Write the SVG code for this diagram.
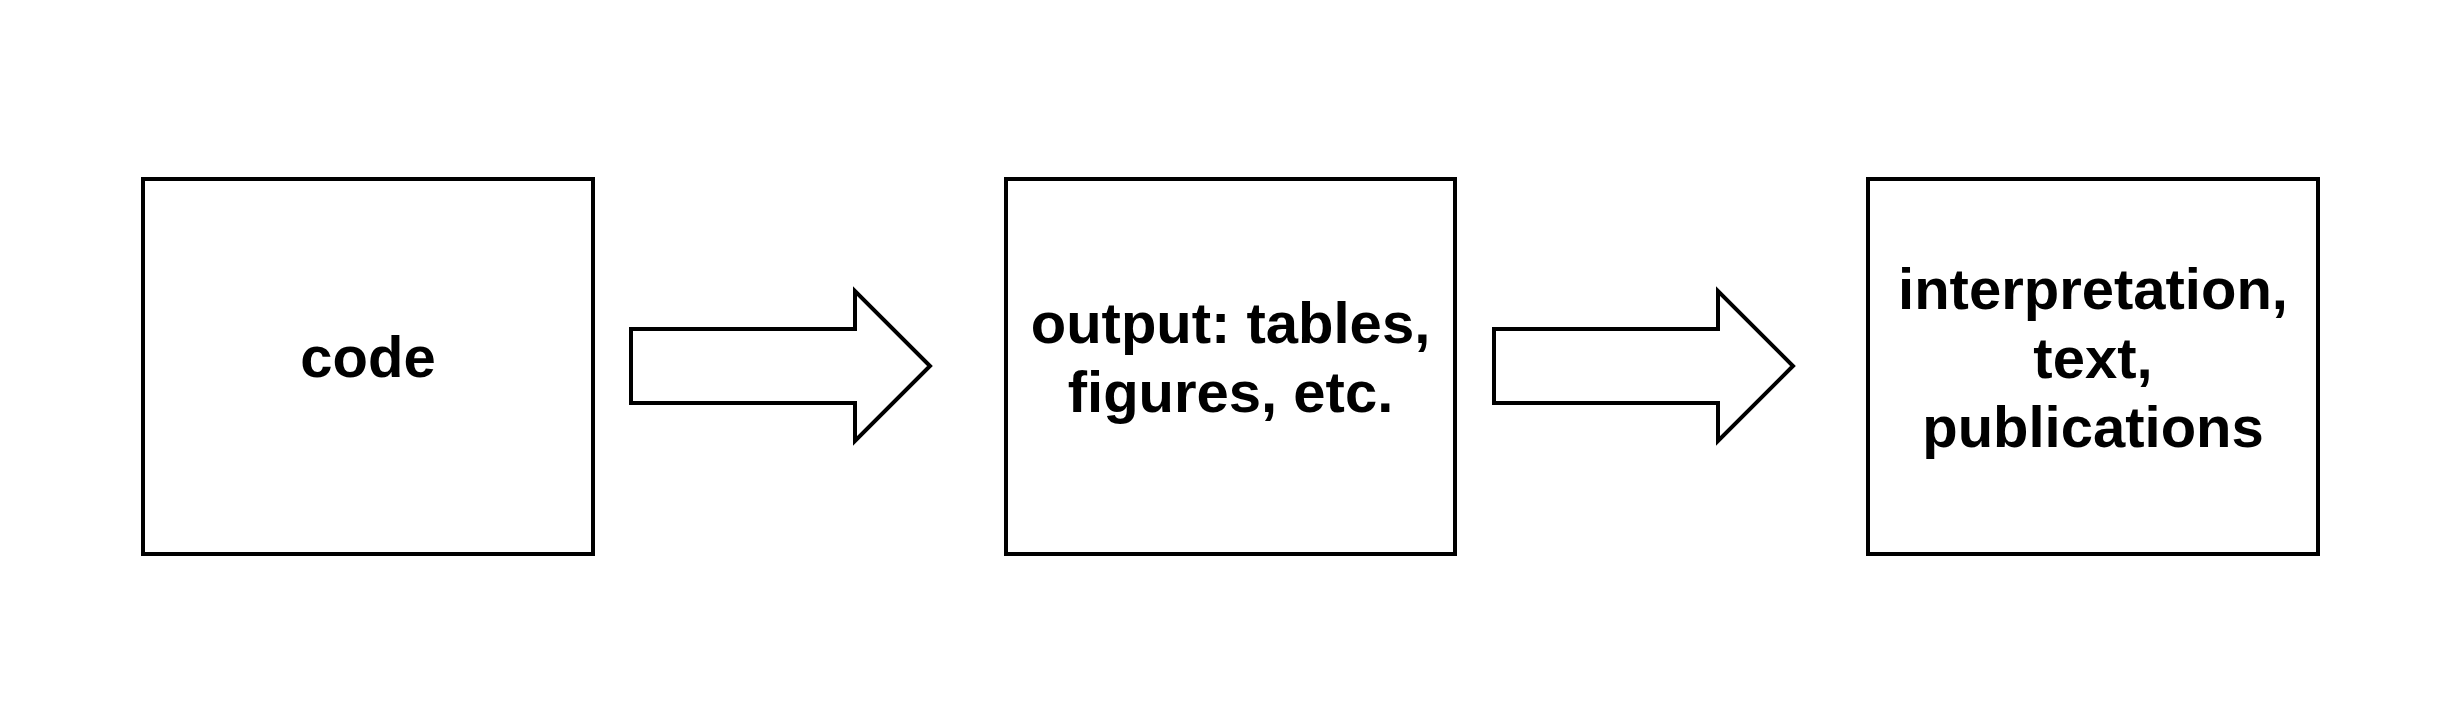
<svg xmlns="http://www.w3.org/2000/svg" width="2452" height="711" viewBox="0 0 2452 711">
<style>
.box{fill:#fff;stroke:#000;stroke-width:4}
.arrow{fill:#fff;stroke:#000;stroke-width:4;stroke-linejoin:miter}
.lbl{font-family:"Liberation Sans",Arial,sans-serif;font-weight:bold;font-size:58px;text-anchor:middle;fill:#000}
</style>
<rect width="2452" height="711" fill="#fff"/>
<g id="node-code">
<rect class="box" x="143" y="179" width="450" height="375"/>
<text class="lbl" x="368" y="377">code</text>
</g>
<g id="node-output">
<rect class="box" x="1006" y="179" width="449" height="375"/>
<text class="lbl" x="1230.5" y="343">output: tables,</text>
<text class="lbl" x="1230.5" y="412">figures, etc.</text>
</g>
<g id="node-interpretation">
<rect class="box" x="1868" y="179" width="450" height="375"/>
<text class="lbl" x="2093" y="309">interpretation,</text>
<text class="lbl" x="2093" y="378">text,</text>
<text class="lbl" x="2093" y="447">publications</text>
</g>
<g id="connectors">
<path class="arrow" d="M631 329 H855 V291 L930 366 L855 441 V403 H631 Z"/>
<path class="arrow" d="M1494 329 H1718 V291 L1793 366 L1718 441 V403 H1494 Z"/>
</g>
</svg>
